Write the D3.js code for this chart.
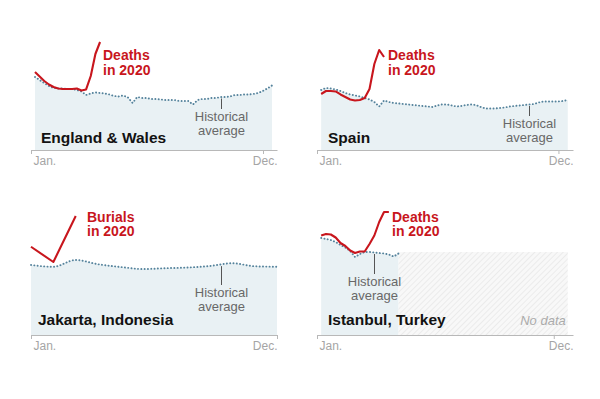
<!DOCTYPE html>
<html>
<head>
<meta charset="utf-8">
<script src="https://cdn.jsdelivr.net/npm/d3@7"></script>
<style>
  body { margin: 0; background: #fff; }
  svg text { font-family: "Liberation Sans", Arial, sans-serif; }
</style>
</head>
<body>
<script>
// values (weekly, Jakarta monthly)
const weeks = d3.range(1, 53);
const months = d3.range(1, 13);
const tickLabels = ['Jan.', 'Dec.'];

const englandAvg = [10950, 10500, 10050, 9600, 9300, 9230, 9230, 9150, 9150, 9000,
  8780, 8250, 8480, 8630, 8550, 8480, 8330, 8100, 8030, 8180,
  7880, 7050, 7950, 7800, 7800, 7650, 7650, 7580, 7500, 7500,
  7500, 7350, 7350, 7350, 6830, 7500, 7650, 7650, 7800, 7800,
  7950, 7950, 8030, 8250, 8250, 8330, 8330, 8400, 8550, 8850,
  9230, 9680];
const england2020 = [11700, 11030, 10350, 9830, 9450, 9230, 9150, 9150, 9150, 9230,
  8930, 9080, 11100, 14400, 16200];

const spainAvg = [9000, 9300, 9230, 9080, 8850, 8550, 8330, 8180, 8030, 7800,
  7580, 7200, 6530, 7430, 7200, 7050, 6980, 6900, 6830, 6750,
  6680, 6600, 6530, 6450, 6680, 6830, 6830, 6680, 6530, 6600,
  6750, 6830, 6750, 6450, 6230, 6230, 6230, 6300, 6380, 6530,
  6600, 6680, 6750, 6830, 6900, 7130, 7280, 7280, 7280, 7280,
  7350, 7500];
const spain2020 = [8400, 8850, 8850, 8780, 8330, 7950, 7580, 7430, 7500, 7800,
  9150, 12900, 15000, 13950];

const jakartaAvg = [2800, 2730, 3000, 2830, 2720, 2640, 2670, 2700, 2760, 2870, 2750, 2730];
const jakarta2020 = [3530, 2920, 4760];

const istanbulAvg = [1940, 1920, 1900, 1860, 1800, 1750, 1680, 1560, 1620, 1660,
  1660, 1650, 1640, 1630, 1610, 1570, 1630];
const istanbul2020 = [1990, 2020, 2010, 1950, 1840, 1780, 1690, 1640, 1670, 1670,
  1820, 1990, 2260, 2460, 2460];
const istanbulNoData = [17, 52];   // weeks with no historical data
const istanbulNoDataLevel = 1660;

const RED = '#c8161d';
const BLUE = '#55839c';

const width = 600, height = 399;
const svg = d3.select('body').append('svg')
  .attr('width', width)
  .attr('height', height);

// hatch for the "no data" block
const pat = svg.append('defs').append('pattern')
  .attr('id', 'hatch')
  .attr('patternUnits', 'userSpaceOnUse')
  .attr('width', 4).attr('height', 4)
  .attr('patternTransform', 'rotate(45)');
pat.append('rect').attr('width', 4).attr('height', 4).attr('fill', '#f8f8f8');
pat.append('line').attr('x1', 0).attr('y1', 0).attr('x2', 0).attr('y2', 4)
  .attr('stroke', '#ebebeb').attr('stroke-width', 2);

const panels = [
  {title: 'England & Wales', x0: 31, w: 246, axisY: 150, yTop: 40, yMax: 16500,
   xs: weeks, dom: [0.14, 53.08], ticks: [0.14, 50.07], avg: englandAvg, cur: england2020,
   curLabel: ['Deaths', 'in 2020'], labelPos: [103, 60], titlePos: [41, 143],
   note: 41, noteY: 121},
  {title: 'Spain', x0: 317, w: 256, axisY: 150, yTop: 40, yMax: 16500,
   xs: weeks, dom: [0.14, 53.08], ticks: [0.14, 50.07], avg: spainAvg, cur: spain2020,
   curLabel: ['Deaths', 'in 2020'], labelPos: [388, 60], titlePos: [328, 143],
   note: 44, noteY: 128},
  {title: 'Jakarta, Indonesia', x0: 31, w: 246, axisY: 335, yTop: 215, yMax: 4800,
   xs: months, dom: [1, 12], ticks: [1, 12], avg: jakartaAvg, cur: jakarta2020, curve: d3.curveMonotoneX,
   curLabel: ['Burials', 'in 2020'], labelPos: [87, 221.5], titlePos: [38, 325],
   note: 9.5, noteY: 297},
  {title: 'Istanbul, Turkey', x0: 317, w: 256, axisY: 335, yTop: 210, yMax: 2500,
   xs: weeks, dom: [0.14, 53.08], ticks: [0.14, 49.1], avg: istanbulAvg, cur: istanbul2020,
   curLabel: ['Deaths', 'in 2020'], labelPos: [392, 221.5], titlePos: [328, 325],
   note: 12, noteY: 286, noData: istanbulNoData, noDataLevel: istanbulNoDataLevel}
];

panels.forEach(p => {
  const g = svg.append('g');
  const x = d3.scaleLinear().domain(p.dom).range([p.x0, p.x0 + p.w]);
  const y = d3.scaleLinear().domain([0, p.yMax]).range([p.axisY, p.yTop]);
  const curve = p.curve || d3.curveLinear;

  // shaded area under historical average
  g.append('path')
    .datum(p.avg)
    .attr('fill', '#e9f1f4')
    .attr('d', d3.area().curve(curve)
      .x((d, i) => x(p.xs[i]))
      .y0(p.axisY)
      .y1(d => y(d)));

  if (p.noData) {
    g.append('rect')
      .attr('x', x(p.noData[0]))
      .attr('y', y(p.noDataLevel))
      .attr('width', x(p.noData[1]) - x(p.noData[0]))
      .attr('height', p.axisY - y(p.noDataLevel))
      .attr('fill', 'url(#hatch)');
    g.append('text')
      .attr('x', x(p.noData[1]) - 2)
      .attr('y', p.titlePos[1])
      .attr('text-anchor', 'end')
      .attr('font-size', 13)
      .attr('font-style', 'italic')
      .attr('fill', '#ababab')
      .text('No data');
  }

  // axis
  const ax = g.append('g')
    .attr('transform', `translate(0,${p.axisY})`)
    .call(d3.axisBottom(x).tickValues(p.ticks).tickSize(4).tickSizeOuter(0)
      .tickFormat((d, i) => tickLabels[i]));
  ax.attr('font-family', null);
  ax.select('.domain').attr('stroke', '#b8b8b8');
  ax.selectAll('.tick line').attr('stroke', '#b8b8b8');
  ax.selectAll('.tick text')
    .attr('fill', '#a5a5a5')
    .attr('font-size', 12)
    .attr('dy', null)
    .attr('y', 15)
    .attr('text-anchor', (d, i) => i ? 'end' : 'start')
    .attr('x', (d, i) => i ? (p.x0 + p.w - x(d)) : 2);

  // historical average, dotted
  g.append('path')
    .datum(p.avg)
    .attr('fill', 'none')
    .attr('stroke', BLUE)
    .attr('stroke-width', 1.9)
    .attr('stroke-linecap', 'round')
    .attr('stroke-dasharray', '0.1,3.2')
    .attr('d', d3.line().curve(curve).x((d, i) => x(p.xs[i])).y(d => y(d)));

  // 2020 line
  g.append('path')
    .datum(p.cur)
    .attr('fill', 'none')
    .attr('stroke', RED)
    .attr('stroke-width', 2.1)
    .attr('stroke-linejoin', 'round')
    .attr('d', d3.line().x((d, i) => x(p.xs[i])).y(d => y(d)));

  const lab = g.append('text')
    .attr('x', p.labelPos[0])
    .attr('y', p.labelPos[1])
    .attr('font-size', 14)
    .attr('font-weight', 'bold')
    .attr('fill', RED);
  p.curLabel.forEach((t, i) => {
    lab.append('tspan').attr('x', p.labelPos[0]).attr('dy', i ? 14.5 : 0).text(t);
  });

  // historical average annotation
  const i0 = Math.floor(p.note) - p.xs[0];
  const frac = p.note - Math.floor(p.note);
  const vNote = frac ? d3.interpolateNumber(p.avg[i0], p.avg[i0 + 1])(frac) : p.avg[i0];
  const nx = Math.round(x(p.note)) + 0.5;
  g.append('line')
    .attr('x1', nx).attr('x2', nx)
    .attr('y1', y(vNote) + 1.5)
    .attr('y2', p.noteY - 12)
    .attr('stroke', '#555')
    .attr('stroke-width', 1);
  const note = g.append('text')
    .attr('x', nx)
    .attr('y', p.noteY)
    .attr('text-anchor', 'middle')
    .attr('font-size', 13)
    .attr('fill', '#686868');
  ['Historical', 'average'].forEach((t, i) => {
    note.append('tspan').attr('x', nx).attr('dy', i ? 13.5 : 0).text(t);
  });

  // panel title
  g.append('text')
    .attr('x', p.titlePos[0])
    .attr('y', p.titlePos[1])
    .attr('font-size', 15.5)
    .attr('font-weight', 'bold')
    .attr('fill', '#121212')
    .text(p.title);
});
</script>
</body>
</html>
